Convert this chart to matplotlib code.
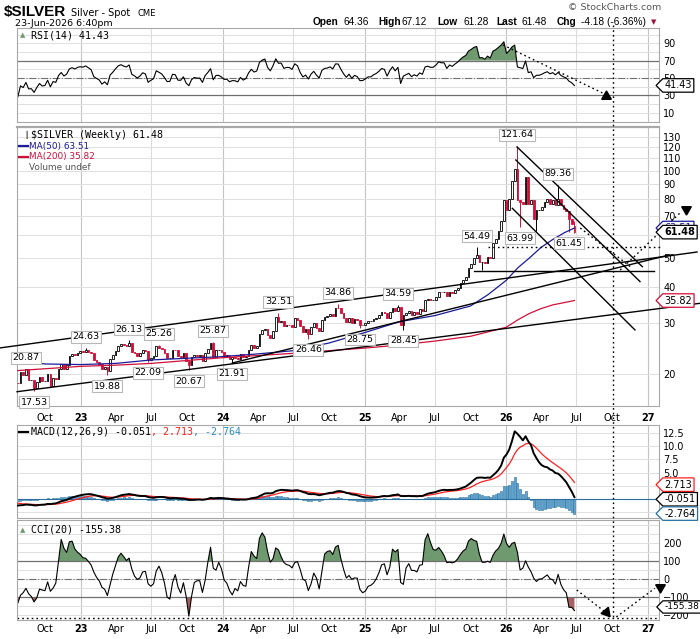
import numpy as np
import pandas as pd
import matplotlib
matplotlib.use("Agg")
import matplotlib.pyplot as plt
import matplotlib.dates as mdates
from matplotlib.lines import Line2D
from matplotlib.path import Path
from matplotlib.ticker import NullLocator

W, H, DPI = 700, 639, 100
RED = "#d0103a"
NAVY = "#1a1a9a"
GREEN_FILL = "#6f9a6f"
RED_FILL = "#a86060"
DOT = (0, (1.2, 2.2))

# weekly closes, one per Friday
# Nov 2021 - mid Jul 2022 sit left of the chart, only there to warm up the indicators
closes_warmup = [24.1, 25.2, 24.7, 23.4, 22.5, 22.2, 22.4, 22.9, 23.3,
                 22.4, 23.0, 24.4, 22.4, 22.4, 23.5, 23.9, 24.2, 25.7, 25.9,
                 25.1, 25.5, 24.7, 24.8, 25.8, 24.3, 22.8, 22.3, 20.9, 21.7,
                 22.1, 22.1, 21.8, 21.6, 21.1, 19.9, 19.2, 18.7]
closes_2022 = [18.65, 20.33, 19.88, 20.80, 19.06, 19.09, 17.93, 18.81, 19.60, 18.91,
               19.02, 20.05, 18.26, 19.42, 19.21, 20.88, 21.77, 20.92, 21.45, 23.09,
               23.50, 23.23, 23.73, 23.95]
closes_2023 = [23.87, 24.23, 23.93, 23.63, 22.36, 22.00, 21.68, 20.78, 21.19, 20.54,
               22.49, 23.21, 24.13, 25.05, 25.41, 25.17, 25.03, 25.60, 23.93, 23.61,
               23.18, 23.60, 24.31, 24.10, 22.38, 22.77, 23.09, 24.95, 24.66, 24.34,
               23.62, 22.70, 22.75, 24.27, 24.17, 23.02, 23.00, 23.70, 22.30, 21.61,
               22.86, 23.35, 23.20, 23.22, 22.30, 23.73, 24.50, 25.53, 22.95, 24.17,
               24.18, 23.79]
closes_2024 = [23.19, 23.21, 22.61, 22.85, 22.82, 22.58, 23.42, 22.88, 23.16, 24.30,
               25.18, 24.70, 24.94, 27.39, 28.28, 28.71, 27.22, 26.54, 28.23, 31.33,
               30.33, 30.42, 29.20, 29.57, 29.55, 29.14, 31.20, 30.77, 29.21, 28.03,
               28.58, 27.46, 28.97, 29.92, 28.88, 28.05, 30.73, 31.51, 31.70, 32.16,
               31.67, 33.73, 33.71, 32.47, 31.27, 30.30, 31.30, 30.05, 31.00, 30.64,
               29.43, 29.45]
closes_2025 = [29.88, 30.41, 30.42, 30.94, 31.29, 31.86, 32.64, 32.47, 31.15, 32.60,
               33.80, 32.96, 34.08, 29.46, 32.02, 32.54, 33.10, 32.01, 32.70, 32.30,
               33.40, 33.00, 35.96, 36.30, 36.00, 36.05, 36.95, 38.40, 38.18, 38.20,
               37.00, 38.30, 38.00, 38.90, 39.70, 41.00, 42.20, 43.10, 46.30, 47.95,
               50.20, 51.40, 48.60, 48.70, 48.30, 50.50, 50.00, 56.50, 58.40, 62.00,
               67.10, 79.00]
closes_2026 = [73.0, 80.0, 92.0, 101.0, 79.0, 78.0, 77.0, 95.0, 77.0, 79.0,
               68.0, 73.0, 73.0, 75.0, 78.0, 80.0, 77.0, 79.0, 76.0, 80.0,
               76.0, 74.0, 72.5, 68.0, 65.66, 61.48]

# wick extremes that stand out on the chart
week_high = {"2022-08-12": 20.87, "2023-01-13": 24.63, "2023-05-05": 26.13,
             "2023-07-21": 25.26, "2023-12-08": 25.87, "2024-05-24": 32.51,
             "2024-10-25": 34.86, "2025-03-28": 34.59, "2025-10-17": 54.49,
             "2026-01-30": 121.64, "2026-05-15": 89.36, "2026-06-26": 67.12}
week_low = {"2022-09-02": 17.53, "2023-03-10": 19.88, "2023-06-23": 22.09,
            "2023-10-06": 20.67, "2024-01-26": 21.91, "2024-08-09": 26.46,
            "2024-12-20": 28.75, "2025-04-11": 28.45, "2025-10-31": 45.5,
            "2026-02-06": 63.99, "2026-03-20": 62.0, "2026-06-12": 61.45,
            "2026-06-26": 61.28}
week_open = {"2026-06-26": 64.36}

swing_labels = [("2022-08-12", 20.87, "hi"), ("2022-09-02", 17.53, "lo"),
                ("2023-01-13", 24.63, "hi"), ("2023-03-10", 19.88, "lo"),
                ("2023-05-05", 26.13, "hi"), ("2023-06-23", 22.09, "lo"),
                ("2023-07-21", 25.26, "hi"), ("2023-10-06", 20.67, "lo"),
                ("2023-12-08", 25.87, "hi"), ("2024-01-26", 21.91, "lo"),
                ("2024-05-24", 32.51, "hi"), ("2024-08-09", 26.46, "lo"),
                ("2024-10-25", 34.86, "hi"), ("2024-12-20", 28.75, "lo"),
                ("2025-03-28", 34.59, "hi"), ("2025-04-11", 28.45, "lo"),
                ("2025-10-17", 54.49, "hi"), ("2026-01-30", 121.64, "hi"),
                ("2026-02-06", 63.99, "lo"), ("2026-05-15", 89.36, "hi"),
                ("2026-06-12", 61.45, "lo")]

# moving averages
ma50_dates = ["2022-07-22", "2022-10-01", "2023-01-01", "2023-04-01", "2023-07-01",
              "2023-10-01", "2024-01-01", "2024-04-01", "2024-07-01", "2024-10-01",
              "2025-01-01", "2025-04-01", "2025-07-01", "2025-10-01", "2025-11-15",
              "2026-01-01", "2026-02-01", "2026-03-01", "2026-04-01", "2026-05-01",
              "2026-06-01", "2026-06-26"]
ma50_vals = [22.2, 21.7, 21.6, 21.8, 22.4, 22.7, 23.0, 23.5, 24.1, 25.6,
             27.8, 30.3, 31.8, 34.3, 37.5, 42.0, 46.5, 50.0, 54.5, 58.0,
             61.3, 63.51]
ma200_dates = ["2022-07-22", "2022-10-01", "2023-01-01", "2023-04-01", "2023-07-01",
               "2023-10-01", "2024-01-01", "2024-04-01", "2024-07-01", "2024-10-01",
               "2025-01-01", "2025-04-01", "2025-07-01", "2025-10-01", "2026-01-01",
               "2026-02-01", "2026-03-01", "2026-04-01", "2026-05-01", "2026-06-26"]
ma200_vals = [20.6, 20.9, 21.3, 21.5, 21.8, 22.3, 22.8, 23.2, 23.6, 24.1,
              24.6, 25.2, 26.0, 27.0, 29.0, 30.8, 32.3, 33.6, 34.6, 35.82]

# hand drawn annotations: (start date, start value, end date, end value)
price_lines = [("2022-06-05", 24.62, "2027-05-08", 52.55),
               ("2022-07-20", 17.43, "2027-05-16", 35.05),
               ("2024-01-26", 21.87, "2027-02-27", 51.4),
               ("2025-10-11", 45.2, "2027-01-17", 45.2),
               ("2026-01-29", 120.5, "2026-12-18", 46.8),
               ("2026-01-26", 108.7, "2026-12-12", 41.6),
               ("2026-01-17", 74.2, "2026-11-29", 28.4)]
price_dotted = [("2025-11-16", 54.49, "2027-02-02", 54.49),
                ("2026-07-11", 63.5, "2026-11-22", 46.3),
                ("2026-10-22", 45.6, "2027-03-25", 71.5)]
rsi_dotted = [("2025-12-24", 88.0, "2026-09-08", 32.4)]
cci_dotted = [("2026-07-02", -61, "2026-09-10", -178),
              ("2026-10-12", -211, "2027-01-19", -52)]
arrow_heads = [("rsi", "2026-09-15", 29.3, 0), ("price", "2027-04-10", 74.0, 180),
               ("cci", "2026-09-16", -181, -20), ("cci", "2027-02-01", -43, 180)]
marker_day = "2026-10-03"
cci_floor = -217

# ---------------------------------------------------------------
closes = closes_warmup + closes_2022 + closes_2023 + closes_2024 + closes_2025 + closes_2026
dates = pd.date_range(end="2026-06-26", periods=len(closes), freq="W-FRI")
df = pd.DataFrame({"close": closes}, index=dates)
df["open"] = df["close"].shift(1).fillna(df["close"])
for d, v in week_open.items():
    df.loc[pd.Timestamp(d), "open"] = v
df["high"] = df[["open", "close"]].max(axis=1)
df["low"] = df[["open", "close"]].min(axis=1)
for d, v in week_high.items():
    df.loc[pd.Timestamp(d), "high"] = v
for d, v in week_low.items():
    df.loc[pd.Timestamp(d), "low"] = v

c = df["close"]
delta = c.diff().fillna(0)
gain = delta.clip(lower=0).ewm(alpha=1 / 14, adjust=False).mean()
loss = (-delta).clip(lower=0).ewm(alpha=1 / 14, adjust=False).mean()
df["rsi"] = 100 - 100 / (1 + gain / loss)
df["macd"] = c.ewm(span=12, adjust=False).mean() - c.ewm(span=26, adjust=False).mean()
df["signal"] = df["macd"].ewm(span=9, adjust=False).mean()
df["hist"] = df["macd"] - df["signal"]
tp = (df["high"] + df["low"] + df["close"]) / 3
mad = tp.rolling(20).apply(lambda v: np.abs(v - v.mean()).mean(), raw=True)
df["cci"] = (tp - tp.rolling(20).mean()) / (0.015 * mad)
prev_close = c.shift(1)

vis = df.loc["2022-07-22":]
xv = mdates.date2num(vis.index)


def dn(d):
    return mdates.date2num(pd.Timestamp(d))


plt.rcParams["font.family"] = "DejaVu Sans"
fig = plt.figure(figsize=(W / DPI, H / DPI), dpi=DPI)


def px_axes(top, bottom):
    return fig.add_axes([17 / W, 1 - bottom / H, (659 - 17) / W, (bottom - top) / H])


ax_rsi = px_axes(28, 122)
ax_px = px_axes(126.7, 406)
ax_macd = px_axes(425, 518)
ax_cci = px_axes(520, 620)
axes = [ax_rsi, ax_px, ax_macd, ax_cci]

quarters = pd.date_range("2022-10-01", "2027-01-01", freq="QS")
for ax in axes:
    ax.set_xlim(dn("2022-07-20"), dn("2027-01-30"))
    ax.yaxis.tick_right()
    ax.tick_params(axis="y", length=0, pad=3, labelsize=7)
    ax.tick_params(axis="x", length=0)
    for s in ax.spines.values():
        s.set_color("#a8a8a8")
        s.set_linewidth(0.8)
    for q in quarters:
        if q.month in (1, 7):
            ax.axvline(dn(q), color="#c4c4c4" if q.month == 1 else "#dcdcdc", lw=0.8, zorder=0)
    ax.set_xticks(mdates.date2num(quarters))
    ax.set_xticklabels([f"{q.year % 100}" if q.month == 1 else q.strftime("%b") for q in quarters],
                       fontsize=7)
    for lbl, q in zip(ax.get_xticklabels(), quarters):
        if q.month == 1:
            lbl.set_fontweight("bold")
ax_rsi.tick_params(axis="x", labelbottom=False)
ax_macd.tick_params(axis="x", labelbottom=False)
ax_px.tick_params(axis="x", pad=5)
ax_cci.tick_params(axis="x", pad=3)
ax_px.spines["top"].set_linewidth(1.6)


def tag_box(x0, y0, width, height, mutation_size):
    pad = 0.18 * mutation_size
    x0, y0, width, height = x0 - pad, y0 - pad, width + 2 * pad, height + 2 * pad
    x1, y1 = x0 + width, y0 + height
    return Path([(x0, y0), (x1, y0), (x1, y1), (x0, y1), (x0 - height / 2, (y0 + y1) / 2), (x0, y0)],
                closed=True)


def value_tag(ax, y, text, ec, color="black", bold=False, z=10, size=7):
    ax.annotate(text, xy=(1, y), xycoords=("axes fraction", "data"), xytext=(4, 0),
                textcoords="offset points", ha="left", va="center", fontsize=size, color=color,
                fontweight="bold" if bold else "normal", annotation_clip=False, zorder=z,
                bbox=dict(boxstyle=tag_box, fc="white", ec=ec, lw=0.9))


def seg(ax, pts, **kw):
    for d0, v0, d1, v1 in pts:
        ax.plot([dn(d0), dn(d1)], [v0, v1], clip_on=False, **kw)


# ---- RSI ----
rsi = vis["rsi"].values
ax_rsi.set_ylim(-0.7, 107.6)
ax_rsi.set_yticks([10, 30, 50, 70, 90])
for lv in range(10, 101, 10):
    ax_rsi.axhline(lv, color="#e0e0e0", lw=0.7, zorder=0)
ax_rsi.axhline(70, color="#707070", lw=0.9)
ax_rsi.axhline(30, color="#707070", lw=0.9)
ax_rsi.axhline(50, color="#707070", lw=0.8, ls="-.")
ax_rsi.fill_between(xv, rsi, 70, where=rsi > 70, interpolate=True, color=GREEN_FILL, lw=0)
ax_rsi.fill_between(xv, rsi, 30, where=rsi < 30, interpolate=True, color=RED_FILL, lw=0)
ax_rsi.plot(xv, rsi, color="black", lw=0.8)
seg(ax_rsi, rsi_dotted, color="black", lw=1, ls=DOT)
value_tag(ax_rsi, 41.43, "41.43", "black")

# ---- price ----
ax_px.set_yscale("log")
ax_px.set_ylim(15.57, 141.4)
price_ticks = [20, 30, 40, 50, 60, 70, 80, 90, 100, 110, 120, 130]
ax_px.set_yticks(price_ticks)
ax_px.set_yticklabels(["" if t == 60 else str(t) for t in price_ticks])
ax_px.yaxis.set_minor_locator(NullLocator())
for t in price_ticks:
    ax_px.axhline(t, color="#e0e0e0", lw=0.7, zorder=0)

up_week = (vis["close"] >= prev_close.loc[vis.index]).values
col = np.where(up_week, "black", RED)
face = np.where(vis["close"].values > vis["open"].values, "white", col).astype(object)
face[-1] = "#ffff00"
ax_px.vlines(xv, vis["low"], vis["high"], colors=col, lw=0.7, zorder=3)
ax_px.bar(xv, (vis["close"] - vis["open"]).abs().values,
          bottom=np.minimum(vis["open"], vis["close"]).values,
          width=4.4, color=list(face), edgecolor=list(col), lw=0.6, zorder=4)
ax_px.plot([dn(d) for d in ma50_dates], ma50_vals, color=NAVY, lw=0.9, zorder=5)
ax_px.plot([dn(d) for d in ma200_dates], ma200_vals, color=RED, lw=0.9, zorder=5)
seg(ax_px, price_lines, color="black", lw=1.0, zorder=6)
seg(ax_px, price_dotted, color="black", lw=1.0, ls=DOT, zorder=6)

for d, v, kind in swing_labels:
    ax_px.annotate(f"{v:.2f}", (dn(d), v), xytext=(0, 8 if kind == "hi" else -8),
                   textcoords="offset points", ha="center", va="center", fontsize=6.8,
                   bbox=dict(boxstyle="square,pad=0.15", fc="white", ec="#b8b8b8", lw=0.8),
                   zorder=7)

value_tag(ax_px, 63.51, "63.51", NAVY, color=NAVY, z=10)
value_tag(ax_px, 61.48, "61.48", "black", bold=True, z=11)
value_tag(ax_px, 35.82, "35.82", RED)

# ---- MACD ----
ax_macd.set_ylim(-3.6, 14.0)
macd_ticks = [-2.5, 0, 2.5, 5, 7.5, 10, 12.5]
ax_macd.set_yticks(macd_ticks)
ax_macd.set_yticklabels(["" if t < 5 else f"{t:.1f}" for t in macd_ticks])
for t in macd_ticks:
    ax_macd.axhline(t, color="#e0e0e0", lw=0.7, zorder=0)
ax_macd.bar(xv, vis["hist"].values, width=5, color="#5aa5d2", edgecolor="#2a6f9e", lw=0.4, zorder=2)
ax_macd.axhline(0, color="#2a6f9e", lw=0.8, zorder=2)
ax_macd.plot(xv, vis["signal"].values, color="#ff2020", lw=0.9, zorder=3)
ax_macd.plot(xv, vis["macd"].values, color="black", lw=1.4, zorder=4)
value_tag(ax_macd, 2.713, "2.713", "#ff2020")
value_tag(ax_macd, -0.051, "-0.051", "black")
value_tag(ax_macd, -2.764, "-2.764", "#2a6f9e")

# ---- CCI ----
cci = vis["cci"].values
ax_cci.set_ylim(-227.8, 327.8)
ax_cci.set_yticks([-200, -100, 0, 100, 200])
for lv in range(-200, 301, 50):
    ax_cci.axhline(lv, color="#e0e0e0", lw=0.7, zorder=0)
ax_cci.axhline(100, color="#707070", lw=0.9)
ax_cci.axhline(-100, color="#707070", lw=0.9)
ax_cci.axhline(0, color="#707070", lw=0.8, ls="-.")
ax_cci.axhline(cci_floor, color="black", lw=1, ls=DOT)
ax_cci.fill_between(xv, cci, 100, where=cci > 100, interpolate=True, color=GREEN_FILL, lw=0)
ax_cci.fill_between(xv, cci, -100, where=cci < -100, interpolate=True, color=RED_FILL, lw=0)
ax_cci.plot(xv, cci, color="black", lw=0.8)
seg(ax_cci, cci_dotted, color="black", lw=1, ls=DOT)
value_tag(ax_cci, -155.38, "-155.38", "black", size=6.6)

panel = {"rsi": ax_rsi, "price": ax_px, "cci": ax_cci}
for p, d, v, rot in arrow_heads:
    panel[p].plot(dn(d), v, marker=(3, 0, rot), ms=8, color="black", clip_on=False, zorder=8)

# dotted vertical marker running through every panel
xm = ax_px.transData.transform((dn(marker_day), 50))[0] / W
fig.add_artist(Line2D([xm, xm], [1 - 25 / H, 1 - 618 / H], color="black", lw=1, ls=DOT))


# ---- texts ----
def ftext(x, y, s, **kw):
    return fig.text(x / W, 1 - y / H, s, va="center", ha="left", **kw)


ftext(4, 12, "$SILVER", fontsize=11, fontweight="bold", family="Liberation Sans")
ftext(71, 13, "Silver - Spot", fontsize=7)
ftext(137, 13, "CME", fontsize=6)
ftext(15, 23, "23-Jun-2026 6:40pm", fontsize=6.8)
ftext(568, 8, "\u00a9 StockCharts.com", fontsize=6.8, color="#555555")
header = [(313, "Open", True), (343, "64.36", False), (378, "High", True), (402, "67.12", False),
          (437, "Low", True), (463, "61.28", False), (496, "Last", True), (521, "61.48", False),
          (557, "Chg", True), (581, "-4.18 (-6.36%)", False)]
for x, s, b in header:
    ftext(x, 22, s, fontsize=7.3, family="Liberation Sans", fontweight="bold" if b else "normal")
ftext(651, 22, "\u25bc", fontsize=5, color="#a0103a")

mono = "DejaVu Sans Mono"
ftext(20, 35, "\u25b2", fontsize=5, color=GREEN_FILL)
ftext(31, 35, "RSI(14) 41.43", fontsize=7.2, family=mono)
ftext(20, 135, "\u2595", fontsize=6)
ftext(31, 135, "$SILVER (Weekly) 61.48", fontsize=7.2, family=mono)
for y, s, cl in [(146, "MA(50) 63.51", NAVY), (156.5, "MA(200) 35.82", RED)]:
    fig.add_artist(Line2D([19 / W, 28 / W], [1 - y / H] * 2, color=cl, lw=1.6))
    ftext(29, y, s, fontsize=6.4, color=cl)
ftext(29, 167, "Volume undef", fontsize=6.4, color="#555555")
fig.add_artist(Line2D([19 / W, 28 / W], [1 - 432 / H] * 2, color="black", lw=1.6))
x0 = 31
for s, cl in [("MACD(12,26,9) -0.051", "black"), (", 2.713", "#ff2020"), (", -2.764", "#2a8fc0")]:
    t = ftext(x0, 432, s, fontsize=7.2, family=mono, color=cl)
    x0 += t.get_window_extent(fig.canvas.get_renderer()).width
ftext(20, 530, "\u25b2", fontsize=5, color=GREEN_FILL)
ftext(31, 530, "CCI(20) -155.38", fontsize=7.2, family=mono)

fig.savefig("out.png", dpi=DPI)
